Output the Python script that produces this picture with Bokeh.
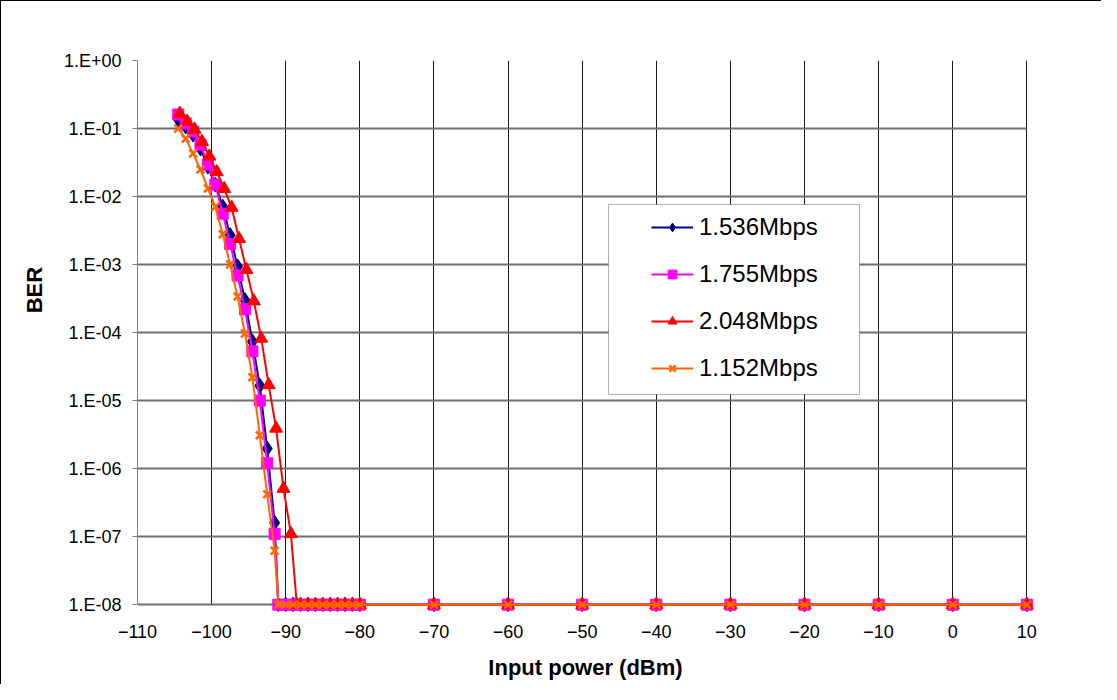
from bokeh.plotting import figure
from bokeh.models import (Range1d, FixedTicker, CustomJSTickFormatter, Legend, LegendItem,
                          BoxAnnotation)
from bokeh.embed import file_html
from bokeh.resources import INLINE

# ---------------- data ----------------
power_a = [-104.5, -103.5, -102.5, -101.5, -100.5, -99.5, -98.5, -97.5, -96.5, -95.5,
           -94.5, -93.5, -92.5, -91.5]
power_b = [-104.3, -103.3, -102.3, -101.3, -100.3, -99.3, -98.3, -97.3, -96.3, -95.3,
           -94.3, -93.3, -92.3, -91.3, -90.3, -89.3]

ber_1536 = [0.136, 0.107, 0.0816, 0.0508, 0.0276, 0.0150, 0.0071, 0.0027, 0.00094, 0.00030,
            7.4e-5, 1.66e-5, 1.97e-6, 1.6e-7]
ber_1755 = [0.161, 0.119, 0.090, 0.058, 0.0296, 0.0150, 0.0056, 0.0020, 0.00069, 0.00022,
            5.3e-5, 1.0e-5, 1.2e-6, 1.1e-7]
ber_1152 = [0.100, 0.071, 0.043, 0.025, 0.0131, 0.0071, 0.0028, 0.0010, 0.00034, 9.7e-5,
            2.2e-5, 3.1e-6, 4.2e-7, 6.2e-8]
ber_2048 = [0.166, 0.127, 0.097, 0.064, 0.039, 0.023, 0.013, 0.0069, 0.0024, 0.00084,
            0.00029, 8.2e-5, 1.7e-5, 3.9e-6, 5.1e-7, 1.1e-7]

floor_x_a = [-91, -90, -89, -88, -87, -86, -85, -84, -83, -82, -81, -80,
             -70, -60, -50, -40, -30, -20, -10, 0, 10]
floor_x_b = [-88.5, -88, -87, -86, -85, -84, -83, -82, -81, -80,
             -70, -60, -50, -40, -30, -20, -10, 0, 10]
ber_floor = 1e-8

x_ticks = [-110, -100, -90, -80, -70, -60, -50, -40, -30, -20, -10, 0, 10]
y_ticks = [1e0, 1e-1, 1e-2, 1e-3, 1e-4, 1e-5, 1e-6, 1e-7, 1e-8]

series = [
    ("1.536Mbps", power_a, ber_1536, floor_x_a, "#000080", "diamond", 15),
    ("1.755Mbps", power_a, ber_1755, floor_x_a, "#FF00FF", "square", 11),
    ("2.048Mbps", power_b, ber_2048, floor_x_b, "#FF0000", "triangle", 13),
    ("1.152Mbps", power_a, ber_1152, floor_x_a, "#FF6600", "x", 11),
]

FONT = "Liberation Sans"

# ranges padded slightly past the last ticks so markers on the edges are not clipped
p = figure(width=1101, height=684, y_axis_type="log",
           x_range=Range1d(-110, 10.9), y_range=Range1d(10 ** -8.1, 1),
           output_backend="svg", toolbar_location=None,
           min_border_left=136, min_border_right=69, min_border_top=59, min_border_bottom=74)
p.styles = {"border-left": "1px solid black", "border-top": "1px solid black"}
p.background_fill_color = "white"
p.border_fill_color = "white"
p.outline_line_color = None

items = []
for label, px, py, fx, color, marker, size in series:
    xs = list(px) + list(fx)
    ys = list(py) + [ber_floor] * len(fx)
    lr = p.line(xs, ys, line_color=color, line_width=2)
    if marker == "x":
        sr = p.scatter(xs, ys, marker=marker, size=size, line_color=color, line_width=2.5)
    else:
        sr = p.scatter(xs, ys, marker=marker, size=size, fill_color=color, line_color=color)
    items.append(LegendItem(label=label, renderers=[lr, sr]))

# axes
p.xaxis.ticker = FixedTicker(ticks=x_ticks)
p.yaxis.ticker = FixedTicker(ticks=y_ticks)
p.yaxis.formatter = CustomJSTickFormatter(code="""
const e = Math.round(Math.log10(tick));
return "1.E" + (e < 0 ? "-" : "+") + String(Math.abs(e)).padStart(2, "0");
""")
for ax in (p.xaxis, p.yaxis):
    ax.major_label_text_font = FONT
    ax.major_label_text_font_size = "18px"
    ax.major_label_text_color = "black"
    ax.axis_label_text_font = FONT
    ax.axis_label_text_font_size = "22px"
    ax.axis_label_text_font_style = "bold"
    ax.axis_label_text_color = "black"
    ax.minor_tick_line_color = None
    ax.major_tick_in = 0
p.xaxis.axis_label = "Input power (dBm)"
p.yaxis.axis_label = "\u00a0" * 15 + "BER"
p.xaxis.axis_line_color = None
p.xaxis.major_tick_line_color = None
p.xaxis.major_tick_out = 0
p.xaxis.major_label_standoff = 13
p.xaxis.axis_label_standoff = 14
p.yaxis.bounds = (1e-8, 1)
p.yaxis.axis_line_color = "#808080"
p.yaxis.major_tick_line_color = "#808080"
p.yaxis.major_tick_out = 5
p.yaxis.major_label_standoff = 11
p.yaxis.axis_label_standoff = 14

# grid
p.xgrid.ticker = FixedTicker(ticks=x_ticks)
p.ygrid.ticker = FixedTicker(ticks=y_ticks)
p.xgrid.bounds = (-110, 10)
p.xgrid.cross_bounds = (1e-8, 1)
p.ygrid.bounds = (1e-8, 1)
p.ygrid.cross_bounds = (-110, 10)
p.xgrid.grid_line_color = "#1a1a1a"
p.xgrid.grid_line_width = 1
p.ygrid.grid_line_color = "#6e6e6e"
p.ygrid.grid_line_width = 2
p.ygrid.minor_grid_line_color = None

# legend box and legend
box = BoxAnnotation(left=471, right=722, bottom=217, top=407,
                    left_units="screen", right_units="screen",
                    top_units="screen", bottom_units="screen",
                    fill_color="white", fill_alpha=1.0,
                    line_color="black", line_width=1)
p.add_layout(box)

legend = Legend(items=items, location=(502, 217), padding=12, spacing=19,
                glyph_height=22, label_height=22, glyph_width=42, label_standoff=6,
                label_text_font=FONT, label_text_font_size="24px", label_text_color="black",
                border_line_alpha=0, background_fill_alpha=0)
p.add_layout(legend)

open("out.html", "w").write(file_html(p, INLINE))
